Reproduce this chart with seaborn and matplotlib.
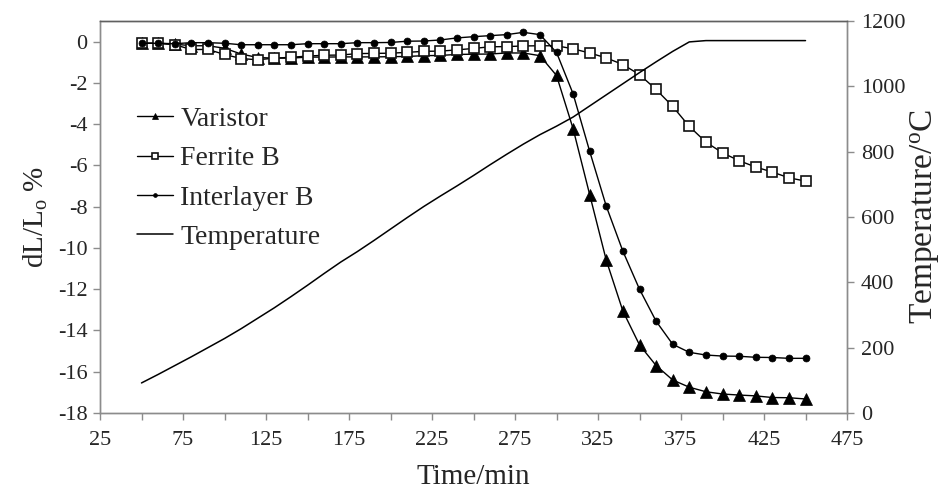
import numpy as np
import pandas as pd
import seaborn as sns
import matplotlib
matplotlib.use("Agg")
import matplotlib.pyplot as plt
from matplotlib import font_manager as fm
from matplotlib.ticker import MultipleLocator, FixedLocator

# Dilatometry data: shrinkage (dL/Lo, %) and furnace temperature vs. time
time_min = [50, 60, 70, 80, 90, 100, 110, 120, 130, 140, 150, 160, 170, 180,
            190, 200, 210, 220, 230, 240, 250, 260, 270, 280, 290, 300, 310,
            320, 330, 340, 350, 360, 370, 380, 390, 400, 410, 420, 430, 440, 450]

varistor = [-0.08, -0.08, -0.12, -0.20, -0.20, -0.32, -0.60, -0.77, -0.80, -0.80,
            -0.75, -0.75, -0.74, -0.74, -0.74, -0.73, -0.72, -0.68, -0.67, -0.62,
            -0.61, -0.60, -0.55, -0.55, -0.68, -1.64, -4.22, -7.42, -10.60, -13.06,
            -14.70, -15.70, -16.40, -16.75, -16.97, -17.08, -17.13, -17.17, -17.25,
            -17.26, -17.32]

ferrite_b = [-0.08, -0.08, -0.15, -0.38, -0.38, -0.62, -0.82, -0.88, -0.80, -0.76,
             -0.70, -0.66, -0.65, -0.58, -0.57, -0.56, -0.52, -0.47, -0.46, -0.40,
             -0.33, -0.25, -0.24, -0.21, -0.20, -0.20, -0.35, -0.55, -0.79, -1.11,
             -1.60, -2.32, -3.14, -4.11, -4.87, -5.39, -5.77, -6.08, -6.32, -6.60,
             -6.76]

interlayer_b = [-0.08, -0.08, -0.10, -0.05, -0.05, -0.08, -0.15, -0.15, -0.15, -0.15,
                -0.10, -0.10, -0.10, -0.05, -0.05, -0.04, 0.02, 0.03, 0.08, 0.18,
                0.24, 0.29, 0.34, 0.45, 0.34, -0.52, -2.53, -5.32, -7.98, -10.16,
                -12.00, -13.55, -14.67, -15.06, -15.19, -15.24, -15.25, -15.30, -15.31,
                -15.35, -15.35]

temperature = [92, 118, 145, 172, 200, 228, 258, 290, 322, 356, 391, 427, 462, 494,
               528, 563, 598, 632, 664, 695, 727, 760, 792, 823, 852, 878, 906, 940,
               974, 1008, 1042, 1075, 1107, 1136, 1140, 1140, 1140, 1140, 1140, 1140, 1140]

x_tick_labels = [25, 75, 125, 175, 225, 275, 325, 375, 425, 475]
left_ticks = list(range(-18, 1, 2))
right_ticks = list(range(0, 1201, 200))

# Make sure the Times-like serif family is registered
for path in fm.findSystemFonts():
    if "Liberation" in path:
        try:
            fm.fontManager.addfont(path)
        except Exception:
            pass

sns.set_style("white")
plt.rcParams["font.family"] = ["Liberation Serif", "DejaVu Serif"]
plt.rcParams["mathtext.fontset"] = "custom"
plt.rcParams["mathtext.rm"] = "Liberation Serif"
plt.rcParams["mathtext.it"] = "Liberation Serif:italic"
plt.rcParams["axes.unicode_minus"] = False

df = pd.DataFrame({"time": time_min, "Varistor": varistor, "Ferrite B": ferrite_b,
                   "Interlayer B": interlayer_b, "Temperature": temperature})

fig = plt.figure(figsize=(9.48, 4.98), dpi=100)
ax = fig.add_axes([100 / 948, 1 - 413 / 498, 747 / 948, 392 / 498])
ax2 = ax.twinx()

lw = 1.0
sns.lineplot(data=df, x="time", y="Varistor", ax=ax, color="black", lw=lw,
             marker="^", markersize=8.5, markeredgewidth=0.5,
             markerfacecolor="black", markeredgecolor="black", label="Varistor")
sns.lineplot(data=df, x="time", y="Ferrite B", ax=ax, color="black", lw=lw,
             marker="s", markersize=7, markeredgewidth=1.2,
             markerfacecolor="white", markeredgecolor="#111111", label="Ferrite B")
sns.lineplot(data=df, x="time", y="Interlayer B", ax=ax, color="black", lw=lw,
             marker="o", markersize=5, markeredgewidth=0.5,
             markerfacecolor="black", markeredgecolor="black", label="Interlayer B")
sns.lineplot(data=df, x="time", y="Temperature", ax=ax2, color="black", lw=1.1,
             label="Temperature")

ax.set_xlim(25, 475)
ax.set_ylim(-18, 1)
ax2.set_ylim(0, 1200)

ax.xaxis.set_major_locator(FixedLocator(x_tick_labels))
ax.xaxis.set_minor_locator(MultipleLocator(50))
ax.set_yticks(left_ticks)
ax2.set_yticks(right_ticks)

spine_color = "#8c8c8c"
for a in (ax, ax2):
    for s in a.spines.values():
        s.set_color(spine_color)
        s.set_linewidth(1.0)
ax.spines["top"].set_color("#606060")
ax2.spines["top"].set_color("#606060")

tick_fs = 16
ax.tick_params(axis="both", which="both", direction="out", length=5,
               width=1.0, color=spine_color, labelsize=tick_fs, pad=4,
               bottom=True, left=True)
ax.tick_params(axis="x", which="major", pad=8)
ax2.tick_params(axis="y", direction="out", length=5, width=1.0,
                color=spine_color, labelsize=tick_fs, pad=5, right=True)

ax.set_xlabel("Time/min", fontsize=21, labelpad=10)
ax.set_ylabel(r"dL/L$_{\mathrm{o}}$ %", fontsize=21, labelpad=6)
ax2.set_ylabel(r"Temperature/$^{\mathrm{o}}$C", fontsize=24, labelpad=2)

# Combined legend for both axes
h1, l1 = ax.get_legend_handles_labels()
h2, l2 = ax2.get_legend_handles_labels()
if ax2.get_legend() is not None:
    ax2.get_legend().remove()
ax.legend(h1 + h2, l1 + l2, loc="upper left", bbox_to_anchor=(0.035, 0.81),
          frameon=False, fontsize=20, handlelength=1.3, handletextpad=0.25,
          labelspacing=0.5, markerscale=0.55, borderaxespad=0)

ax.grid(False)
ax2.grid(False)

fig.savefig("out.png", dpi=100)
